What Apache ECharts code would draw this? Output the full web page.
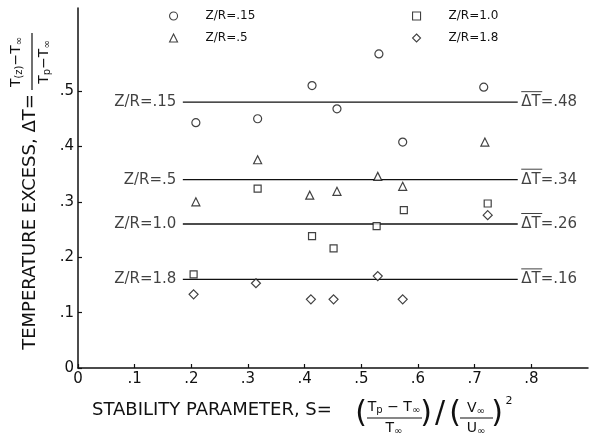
<!DOCTYPE html>
<html><head><meta charset="utf-8">
<script src="https://cdn.jsdelivr.net/npm/echarts@6/dist/echarts.min.js"></script>
<style>html,body{margin:0;padding:0;background:#fff}#c{width:590px;height:438px}</style>
</head><body><div id="c"></div>
<script>
// ---- data ----
const xTicks = [0, 0.1, 0.2, 0.3, 0.4, 0.5, 0.6, 0.7, 0.8];
const xTickLabels = ['0', '.1', '.2', '.3', '.4', '.5', '.6', '.7', '.8'];
const yTicks = [0, 0.1, 0.2, 0.3, 0.4, 0.5];
const yTickLabels = ['0', '.1', '.2', '.3', '.4', '.5'];

const seriesNames = ['Z/R=.15', 'Z/R=.5', 'Z/R=1.0', 'Z/R=1.8'];
const ptsZR015 = [[0.208,0.443],[0.317,0.450],[0.413,0.510],[0.457,0.468],[0.531,0.567],[0.573,0.408],[0.716,0.507]];
const ptsZR05  = [[0.208,0.300],[0.317,0.376],[0.409,0.312],[0.457,0.319],[0.529,0.346],[0.573,0.328],[0.718,0.408]];
const ptsZR10  = [[0.204,0.169],[0.317,0.324],[0.413,0.238],[0.451,0.216],[0.527,0.256],[0.575,0.285],[0.723,0.297]];
const ptsZR18  = [[0.204,0.133],[0.314,0.153],[0.411,0.124],[0.451,0.124],[0.529,0.166],[0.573,0.124],[0.723,0.276]];

const meanLevels = [0.48, 0.34, 0.26, 0.16];
const meanLeftLabels = ['Z/R=.15', 'Z/R=.5', 'Z/R=1.0', 'Z/R=1.8'];
const meanRightValues = ['.48', '.34', '.26', '.16'];
const meanLineStart = 0.185;
const meanLineEnd = 0.776;

// ---- chart ----
const FONT = 'DejaVu Sans';
const chart = echarts.init(document.getElementById('c'), null, {renderer: 'canvas'});
const symbols = ['circle', 'triangle', 'rect', 'diamond'];
const symSizes = [8, 8, 7, 9];
const allPts = [ptsZR015, ptsZR05, ptsZR10, ptsZR18];

const series = [];
meanLevels.forEach((lv, i) => {
  series.push({
    type: 'line', name: 'mean' + i, silent: true, z: 1,
    symbol: 'none', lineStyle: {color: '#111', width: 1.3},
    data: [[meanLineStart, lv], [meanLineEnd, lv]]
  });
});
series.push({
  type: 'scatter', name: 'leftLabels', silent: true, symbolSize: 1,
  itemStyle: {color: 'transparent'},
  label: {show: true, position: 'left', distance: 6, color: '#111', fontFamily: FONT, fontSize: 15,
          formatter: p => meanLeftLabels[p.dataIndex]},
  data: meanLevels.map(lv => [meanLineStart, lv])
});
series.push({
  type: 'scatter', name: 'rightLabels', silent: true, symbolSize: 1,
  itemStyle: {color: 'transparent'},
  label: {show: true, position: 'right', distance: 3, color: '#111', fontFamily: FONT, fontSize: 15,
          offset: [0, -2],
          formatter: p => '{ov| }\n{t|ΔT=' + meanRightValues[p.dataIndex] + '}',
          rich: {
            ov: {width: 21, height: 1, lineHeight: 4, backgroundColor: '#111', fontSize: 1},
            t: {fontFamily: FONT, fontSize: 15, color: '#111', lineHeight: 17}
          }},
  data: meanLevels.map(lv => [meanLineEnd, lv])
});
allPts.forEach((pts, i) => {
  series.push({
    type: 'scatter', name: seriesNames[i], z: 3,
    symbol: symbols[i], symbolSize: symSizes[i],
    itemStyle: {color: '#fff', borderColor: '#111', borderWidth: 1.2},
    data: pts
  });
});

const legendCommon = {
  orient: 'vertical', itemGap: 10, itemWidth: 8, itemHeight: 8,
  itemStyle: {borderWidth: 1.1},
  textStyle: {fontFamily: FONT, fontSize: 12, color: '#111', padding: [0, 0, 0, 23]},
  selectedMode: false
};

const txt = (text, x, y, size, extra) => ({
  type: 'text', x: x, y: y, silent: true,
  style: Object.assign({text: text, fontFamily: FONT, fontSize: size, fill: '#111',
    align: 'center', verticalAlign: 'middle'}, extra || {})
});
const subRich = size => ({s: {fontFamily: FONT, fontSize: size, fill: '#111', verticalAlign: 'bottom', padding: [6, 0, 0, 0]}});

const graphics = [
  // y-axis title
  Object.assign(txt('TEMPERATURE EXCESS, ΔT=', 30, 222, 18), {rotation: Math.PI / 2}),
  Object.assign(txt('T{s|(z)}−T{s|∞}', 16, 62, 14, {rich: subRich(10)}), {rotation: Math.PI / 2}),
  {type: 'line', silent: true, shape: {x1: 32, y1: 33, x2: 32, y2: 90}, style: {stroke: '#111', lineWidth: 1.2}},
  Object.assign(txt('T{s|p}−T{s|∞}', 44, 62, 14, {rich: subRich(10)}), {rotation: Math.PI / 2}),
  // x-axis title
  txt('STABILITY PARAMETER, S=', 92, 410, 18, {align: 'left'}),
  txt('(', 361, 414, 30),
  txt('T{s|p} − T{s|∞}', 394, 407, 14, {rich: subRich(10)}),
  {type: 'line', silent: true, shape: {x1: 367, y1: 418, x2: 422, y2: 418}, style: {stroke: '#111', lineWidth: 1.2}},
  txt('T{s|∞}', 394, 428, 14, {rich: subRich(10)}),
  txt(')', 426, 414, 30),
  txt('/', 440, 414, 30),
  txt('(', 455, 414, 30),
  txt('V{s|∞}', 476, 408, 14, {rich: subRich(10)}),
  {type: 'line', silent: true, shape: {x1: 460, y1: 418, x2: 493, y2: 418}, style: {stroke: '#111', lineWidth: 1.2}},
  txt('U{s|∞}', 476, 428, 14, {rich: subRich(10)}),
  txt(')', 497, 414, 30),
  txt('2', 509, 401, 11)
];

chart.setOption({
  animation: false,
  backgroundColor: '#fff',
  grid: {left: 78, right: 2, top: 8, bottom: 70, containLabel: false},
  xAxis: {
    type: 'value', min: 0, max: 0.9, interval: 0.1,
    axisLine: {show: true, onZero: false, lineStyle: {color: '#111', width: 1.5}},
    axisTick: {show: true, inside: true, length: 4, lineStyle: {color: '#111', width: 1.2}, customValues: xTicks},
    axisLabel: {color: '#111', fontFamily: FONT, fontSize: 15, margin: 4, customValues: xTicks,
                formatter: v => xTickLabels[xTicks.findIndex(t => Math.abs(t - v) < 1e-6)] || ''},
    splitLine: {show: false}
  },
  yAxis: {
    type: 'value', min: 0, max: 0.65,
    axisLine: {show: true, onZero: false, lineStyle: {color: '#111', width: 1.5}},
    axisTick: {show: true, inside: true, length: 4, lineStyle: {color: '#111', width: 1.2}, customValues: yTicks},
    axisLabel: {color: '#111', fontFamily: FONT, fontSize: 15, margin: 4, customValues: yTicks,
                formatter: v => yTickLabels[yTicks.findIndex(t => Math.abs(t - v) < 1e-6)] || ''},
    splitLine: {show: false}
  },
  legend: [
    Object.assign({left: 164, top: 5, data: [seriesNames[0], seriesNames[1]]}, legendCommon),
    Object.assign({left: 407, top: 5, data: [seriesNames[2], seriesNames[3]]}, legendCommon)
  ],
  graphic: graphics,
  series: series
});
</script></body></html>
